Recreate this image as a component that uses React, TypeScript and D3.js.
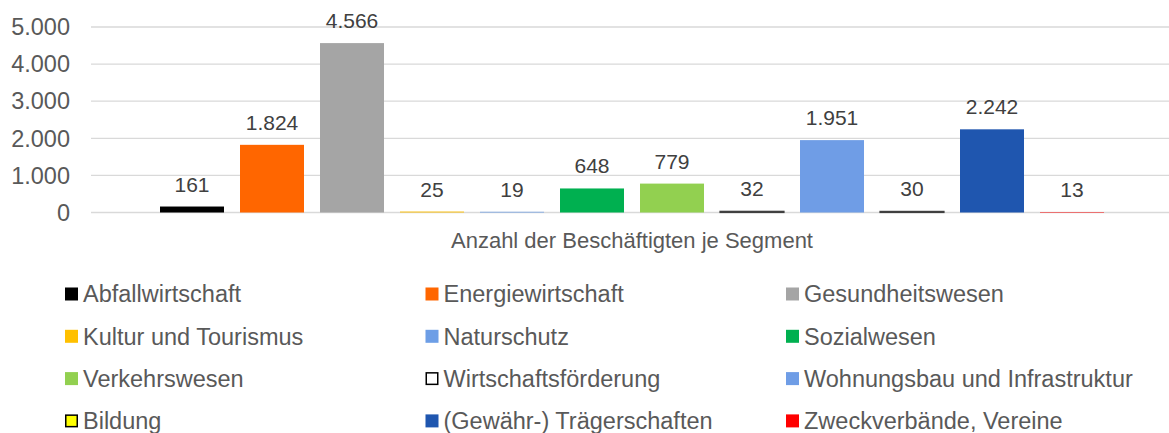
import React, { useMemo } from "react";
import * as d3 from "d3";

const WIDTH = 1169;
const HEIGHT = 433;
const FONT = "'Liberation Sans', Arial, sans-serif";

// one category, twelve series (order = legend order)
const categoryLabel = "Anzahl der Beschäftigten je Segment";
const seriesNames = [
  "Abfallwirtschaft",
  "Energiewirtschaft",
  "Gesundheitswesen",
  "Kultur und Tourismus",
  "Naturschutz",
  "Sozialwesen",
  "Verkehrswesen",
  "Wirtschaftsförderung",
  "Wohnungsbau und Infrastruktur",
  "Bildung",
  "(Gewähr-) Trägerschaften",
  "Zweckverbände, Vereine",
];
const seriesValues = [161, 1824, 4566, 25, 19, 648, 779, 32, 1951, 30, 2242, 13];
const seriesColors = [
  "#000000", "#FF6600", "#A5A5A5", "#FFC000", "#6D9EE6", "#00B050",
  "#92D050", "#FFFFFF", "#6F9DE6", "#FFFF00", "#1F56AF", "#FF0000",
];
// series drawn with a black outline
const outlined = ["Wirtschaftsförderung", "Bildung"];
const yTicks = [0, 1000, 2000, 3000, 4000, 5000];

const de = d3.formatLocale({ decimal: ",", thousands: ".", grouping: [3], currency: ["", " €"] });
const fmt = de.format(",d");

export default function App() {
  const xScale = useMemo(
    () => d3.scaleBand().domain(seriesNames).range([152, 1112]).paddingInner(0.2).paddingOuter(0.1),
    []
  );
  const yScale = useMemo(() => d3.scaleLinear().domain([0, 5000]).range([212.5, 27]), []);

  const legendCols = 3;
  const legendX = d3.scaleLinear().domain([0, 1]).range([65, 425.5]);
  const legendY = d3.scaleLinear().domain([0, 1]).range([294, 336.3]);

  return (
    <svg width={WIDTH} height={HEIGHT} style={{ position: "absolute", left: 0, top: 0 }} fontFamily={FONT}>
      <rect width={WIDTH} height={HEIGHT} fill="#fff" />

      {/* gridlines + y labels */}
      {yTicks.map((t) => (
        <g key={t}>
          <line x1={91} x2={WIDTH} y1={yScale(t)} y2={yScale(t)} stroke="#D9D9D9" strokeWidth={1.3} />
          <text x={70} y={yScale(t)} dy="0.35em" textAnchor="end" fontSize={23.5} fill="#595959">
            {fmt(t)}
          </text>
        </g>
      ))}

      {/* bars */}
      {seriesNames.map((name, i) => {
        const v = seriesValues[i];
        const x = xScale(name)!;
        const y = yScale(v);
        const h = yScale(0) - y;
        const isOutlined = outlined.includes(name);
        return (
          <g key={name}>
            <rect
              x={x}
              y={y}
              width={xScale.bandwidth()}
              height={h}
              fill={seriesColors[i]}
              stroke={isOutlined ? "#404040" : "none"}
              strokeWidth={isOutlined ? 1.2 : 0}
            />
            <text x={x + xScale.bandwidth() / 2} y={y - 15} textAnchor="middle" fontSize={21} fill="#404040">
              {fmt(v)}
            </text>
          </g>
        );
      })}

      {/* category label */}
      <text x={(xScale.range()[0] + xScale.range()[1]) / 2} y={248} textAnchor="middle" fontSize={22} fill="#595959">
        {categoryLabel}
      </text>

      {/* legend */}
      {seriesNames.map((name, i) => {
        const col = i % legendCols;
        const row = Math.floor(i / legendCols);
        const lx = legendX(col);
        const ly = legendY(row);
        const isOutlined = outlined.includes(name);
        return (
          <g key={"lg" + name}>
            <rect
              x={isOutlined ? lx + 0.75 : lx}
              y={isOutlined ? ly - 5.75 : ly - 6.5}
              width={isOutlined ? 11.5 : 13}
              height={isOutlined ? 11.5 : 13}
              fill={seriesColors[i]}
              stroke={isOutlined ? "#000" : "none"}
              strokeWidth={1.5}
            />
            <text x={lx + 18} y={ly} dy="0.35em" fontSize={23.5} fill="#595959">
              {name}
            </text>
          </g>
        );
      })}
    </svg>
  );
}
